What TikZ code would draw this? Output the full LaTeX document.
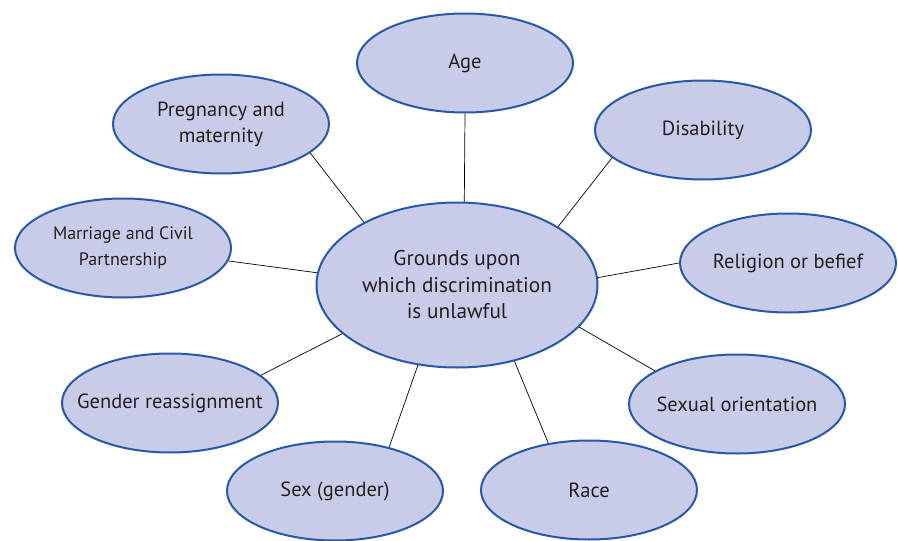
\documentclass[tikz,border=0pt]{standalone}
\usepackage{fontspec}
\setmainfont{PT Sans}
\usepackage{xcolor}
\usepackage{tikz}
\usetikzlibrary{shapes.geometric}
\definecolor{ovalfill}{RGB}{200, 204, 232}
\definecolor{ovalblue}{RGB}{40, 88, 166}
\definecolor{txtgray}{RGB}{35, 31, 32}

\begin{document}
\begin{tikzpicture}[
    x=1pt, y=-1pt,
    font=\fontsize{20.5}{26}\selectfont,
    ground/.style={draw=ovalblue, line width=2pt, fill=ovalfill, ellipse,
                   inner xsep=-25pt, inner ysep=0pt,
                   minimum width=216pt, minimum height=99pt, align=center, text=txtgray},
    hub/.style={ground, minimum width=281pt, minimum height=165pt,
                font=\fontsize{21.3}{26.5}\selectfont},
    spoke/.style={draw=black, line width=0.7pt},
]
\useasboundingbox (0,0) rectangle (898,541);

% --- Centre ---
\node[hub] (hub) at (457,285) {Grounds upon\\which discrimination\\is unlawful};

% --- Grounds round the centre ---
\node[ground] (age) at (465,63) {Age};
\node[ground] (dis) at (703,130) {Disability};
\node[ground] (rel) at (788,263) {Religion or befief};
\node[ground] (sexor) at (737,404) {Sexual orientation};
\node[ground] (race) at (589,490) {Race};
\node[ground] (sex) at (335,491) {Sex (gender)};
\node[ground] (gender) at (170,403) {Gender reassignment};
\node[ground, font=\fontsize{18}{26}\selectfont] (marr) at (123,248) {Marriage and Civil\\Partnership};
\node[ground] (preg) at (221,124) {Pregnancy and\\maternity};

% --- Spokes ---
\draw[spoke] (hub.85) -- (age.south);
\draw[spoke] (hub.30) -- (dis.197);
\draw[spoke] (hub.3) -- (rel.west);
\draw[spoke] (hub.-19) -- (sexor.158);
\draw[spoke] (hub.-53) -- (race.131);
\draw[spoke] (hub.-116) -- (sex.39);
\draw[spoke] (hub.-157) -- (gender.17);
\draw[spoke] (hub.175) -- (marr.-7);
\draw[spoke] (hub.146) -- (preg.-18);

\end{tikzpicture}
\end{document}
